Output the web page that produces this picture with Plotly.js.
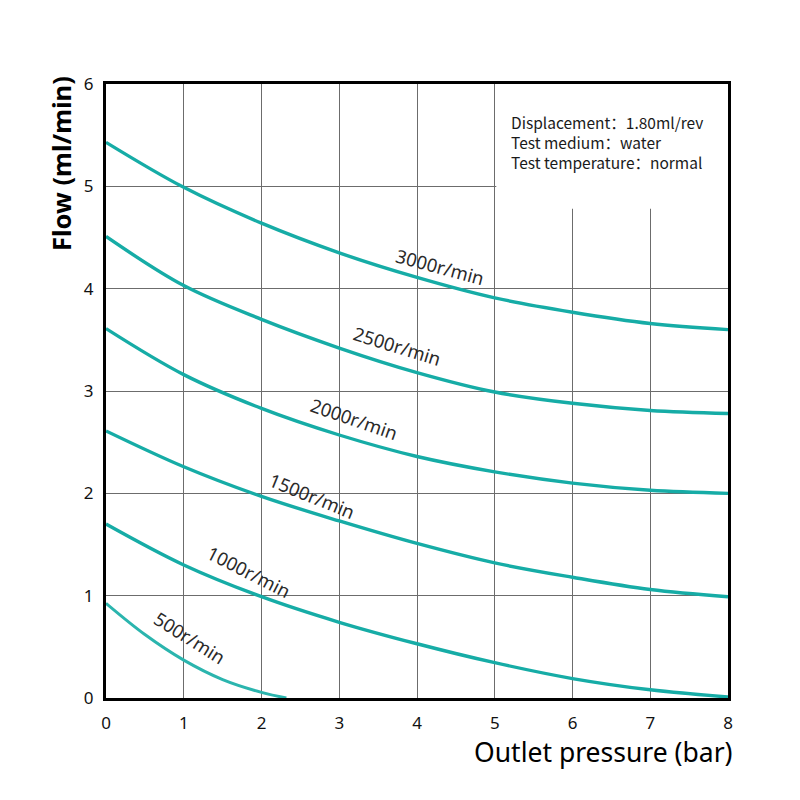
<!DOCTYPE html>
<html>
<head>
<meta charset="utf-8">
<script src="https://cdn.plot.ly/plotly-3.0.1.min.js"></script>
<style>
  html, body { margin: 0; padding: 0; background: #ffffff; }
  #chart { width: 800px; height: 800px; }
</style>
</head>
<body>
<div id="chart"></div>
<script>
// Outlet pressure (bar) sample points
const pressure = [0, 1, 2, 3, 4, 5, 6, 7, 8];

// Flow (ml/min) at each pressure, one array per pump speed
const flow3000 = [5.43, 4.99, 4.64, 4.35, 4.11, 3.91, 3.77, 3.66, 3.60];
const flow2500 = [4.51, 4.03, 3.70, 3.42, 3.18, 2.99, 2.88, 2.81, 2.78];
const flow2000 = [3.61, 3.16, 2.83, 2.57, 2.36, 2.21, 2.10, 2.03, 2.00];
const flow1500 = [2.61, 2.26, 1.97, 1.73, 1.51, 1.32, 1.18, 1.06, 0.99];
const flow1000 = [1.70, 1.30, 0.99, 0.74, 0.53, 0.345, 0.19, 0.08, 0.01];

// The 500 r/min curve reaches zero flow before 2.5 bar
const pressure500 = [0, 0.5, 1, 1.5, 2, 2.32];
const flow500 = [0.925, 0.62, 0.37, 0.18, 0.055, 0.0];

const speedLabels = ['3000r/min', '2500r/min', '2000r/min', '1500r/min', '1000r/min', '500r/min'];

const specLines = [
  'Displacement：1.80ml/rev',
  'Test medium：water',
  'Test temperature：normal'
];

const xTicks = [0, 1, 2, 3, 4, 5, 6, 7, 8];
const yTicks = [0, 1, 2, 3, 4, 5, 6];

const teal = '#16aca6';
const font = '"Noto Sans", "Open Sans", sans-serif';
const specFont = '"Noto Sans CJK SC", "Noto Sans", sans-serif';

function curve(x, y, color, width) {
  return {
    x: x, y: y, type: 'scatter', mode: 'lines',
    line: { color: color, width: width, shape: 'spline', smoothing: 1.0 },
    hoverinfo: 'skip', showlegend: false
  };
}

const traces = [
  curve(pressure, flow3000, teal, 3.4),
  curve(pressure, flow2500, teal, 3.4),
  curve(pressure, flow2000, teal, 3.4),
  curve(pressure, flow1500, teal, 3.4),
  curve(pressure, flow1000, teal, 3.4),
  curve(pressure500, flow500, '#2bb5ae', 3.0)
];

// Curve labels: position (pressure, flow) and slant in degrees
const labelPlacement = [
  [4.30, 4.22, 15],
  [3.74, 3.44, 17],
  [3.19, 2.73, 19],
  [2.65, 1.98, 22],
  [1.84, 1.24, 27],
  [1.08, 0.59, 32]
];

const annotations = speedLabels.map((t, i) => ({
  text: t, x: labelPlacement[i][0], y: labelPlacement[i][1],
  xref: 'x', yref: 'y', showarrow: false, textangle: labelPlacement[i][2],
  font: { family: font, size: 18.5, color: '#2a2a2a' }
}));

// Test conditions block in the upper-right corner
annotations.push({
  text: specLines.join('<br>'), x: 5.18, y: 5.43, xref: 'x', yref: 'y',
  xanchor: 'left', yanchor: 'middle', align: 'left', showarrow: false,
  font: { family: specFont, size: 15.5, color: '#1a1a1a' }
});

// Axis titles
annotations.push({
  text: 'Outlet pressure (bar)', xref: 'paper', yref: 'paper',
  x: 1.0105, y: -0.088, xanchor: 'right', yanchor: 'middle', showarrow: false,
  font: { family: font, size: 26.5, color: '#000000' }
});
annotations.push({
  text: '<b>Flow (ml/min)</b>', xref: 'paper', yref: 'paper',
  x: -0.072, y: 0.87, xanchor: 'center', yanchor: 'middle', showarrow: false,
  textangle: -90,
  font: { family: font, size: 25.5, color: '#000000' }
});

const layout = {
  width: 800, height: 800,
  margin: { l: 106, r: 72, t: 84, b: 102 },
  paper_bgcolor: '#ffffff', plot_bgcolor: '#ffffff',
  xaxis: {
    range: [0, 8], tickvals: xTicks, ticktext: xTicks.map(String),
    showgrid: true, gridcolor: '#6c6c6c', gridwidth: 1,
    zeroline: false, showline: true, mirror: true, linecolor: '#000000', linewidth: 3,
    ticks: '', ticklabelstandoff: 8,
    tickfont: { family: font, size: 17, color: '#111111' }
  },
  yaxis: {
    range: [0, 6], tickvals: yTicks, ticktext: yTicks.map(String),
    showgrid: true, gridcolor: '#6c6c6c', gridwidth: 1,
    zeroline: false, showline: true, mirror: true, linecolor: '#000000', linewidth: 3,
    ticks: '', ticklabelstandoff: 6,
    tickfont: { family: font, size: 17, color: '#111111' }
  },
  shapes: [
    // clear panel behind the test conditions
    { type: 'rect', xref: 'x', yref: 'y', x0: 5.02, x1: 8, y0: 4.78, y1: 6,
      fillcolor: '#ffffff', line: { width: 0 }, layer: 'between' }
  ],
  annotations: annotations,
  showlegend: false
};

Plotly.newPlot('chart', traces, layout, { displayModeBar: false, staticPlot: true });
</script>
</body>
</html>
